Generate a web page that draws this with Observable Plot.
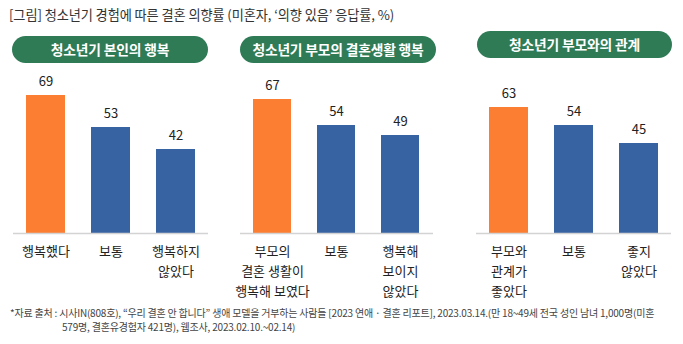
<!DOCTYPE html>
<html><head><meta charset="utf-8">
<script src="https://cdn.jsdelivr.net/npm/d3@7"></script>
<script src="https://cdn.jsdelivr.net/npm/@observablehq/plot@0.6"></script>
<style>
html,body{margin:0;padding:0;background:#fff;}
#root{position:relative;width:683px;height:344px;overflow:hidden;font-family:"Noto Sans CJK KR","Noto Sans",sans-serif;}
.title{position:absolute;left:9px;top:5px;font-size:13.2px;color:#333;white-space:nowrap;letter-spacing:-0.1px;}
.pill{position:absolute;height:27px;line-height:27px;border-radius:14px;background:#2f7b56;color:#fff;font-weight:700;font-size:13.8px;text-align:center;white-space:nowrap;letter-spacing:-0.2px;}
.foot{position:absolute;font-size:10px;color:#444;white-space:nowrap;letter-spacing:-0.2px;}
</style></head>
<body><div id="root"></div>
<script>
const title = "[그림] 청소년기 경험에 따른 결혼 의향률 (미혼자, ‘의향 있음’ 응답률, %)";
const panelTitles = ["청소년기 본인의 행복", "청소년기 부모의 결혼생활 행복", "청소년기 부모와의 관계"];
const cats1 = ["행복했다", "보통", "행복하지\n않았다"];
const values1 = [69, 53, 42];
const cats2 = ["부모의\n결혼 생활이\n행복해 보였다", "보통", "행복해\n보이지\n않았다"];
const values2 = [67, 54, 49];
const cats3 = ["부모와\n관계가\n좋았다", "보통", "좋지\n않았다"];
const values3 = [63, 54, 45];
const groups = ["강조", "기타", "기타"];
const footLine1 = "*자료 출처 : 시사IN(808호), “우리 결혼 안 합니다” 생애 모델을 거부하는 사람들 [2023 연애 · 결혼 리포트], 2023.03.14.(만 18~49세 전국 성인 남녀 1,000명(미혼";
const footLine2 = "579명, 결혼유경험자 421명), 웹조사, 2023.02.10.~02.14)";

const root = document.getElementById("root");
function div(cls, text, style) {
  const d = document.createElement("div");
  d.className = cls; d.textContent = text;
  Object.assign(d.style, style);
  root.appendChild(d); return d;
}
div("title", title, {});
const pillPos = [[12, 36, 196], [240, 36, 196], [477, 31, 195]];
panelTitles.forEach((t, i) => div("pill", t, {left: pillPos[i][0] + "px", top: pillPos[i][1] + "px", width: pillPos[i][2] + "px"}));

const panels = [[cats1, values1, 13, 195], [cats2, values2, 240, 193], [cats3, values3, 476, 195]];
panels.forEach(([cats, vals, left, w]) => {
  const data = cats.map((c, i) => ({cat: c, value: vals[i], group: groups[i]}));
  const chart = Plot.plot({
    width: w, height: 230,
    marginLeft: 0, marginRight: 0, marginTop: 0, marginBottom: 67,
    style: {overflow: "visible", fontFamily: "'Noto Sans CJK KR', sans-serif", background: "transparent"},
    x: {domain: cats, paddingInner: 0.4, paddingOuter: 0.2, axis: null},
    y: {domain: [0, 81.5], axis: null},
    color: {domain: ["강조", "기타"], range: ["#fc7e33", "#3763a3"]},
    marks: [
      Plot.barY(data, {x: "cat", y: "value", fill: "group"}),
      Plot.ruleY([0], {stroke: "#d3d3d3", strokeWidth: 1.5}),
      Plot.text(data, {x: "cat", y: "value", text: d => String(d.value), dy: -14, fontSize: 13, fill: "#222"}),
      Plot.text(data, {x: "cat", y: 0, text: "cat", lineAnchor: "top", dy: 8, fontSize: 13, lineHeight: 1.54, fill: "#222"})
    ]
  });
  chart.style.position = "absolute";
  chart.style.left = left + "px";
  chart.style.top = "70px";
  root.appendChild(chart);
});

div("foot", footLine1, {left: "10px", top: "305px"});
div("foot", footLine2, {left: "62px", top: "319px"});
</script></body></html>
